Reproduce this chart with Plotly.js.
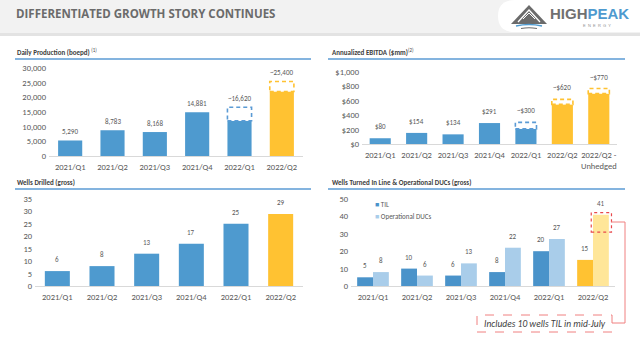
<!DOCTYPE html>
<html><head><meta charset="utf-8">
<script src="https://cdn.plot.ly/plotly-3.0.1.min.js"></script>
<style>html,body{margin:0;padding:0;background:#fff}#chart{width:640px;height:337px}</style>
</head><body><div id="chart"></div>
<script>
// ---------- DATA ----------
const prodCats = ['2021/Q1','2021/Q2','2021/Q3','2021/Q4','2022/Q1','2022/Q2'];
const prodActual = [5290, 8783, 8168, 14881, 12000, 22000];
const prodEstimate = [null, null, null, null, 16620, 25400];
const prodLabels = ['5,290','8,783','8,168','14,881','~16,620','~25,400'];

const ebitdaCats = ['2021/Q1','2021/Q2','2021/Q3','2021/Q4','2022/Q1','2022/Q2','2022/Q2 -<br>Unhedged'];
const ebitdaActual = [80, 154, 134, 291, 210, 550, 700];
const ebitdaEstimate = [null, null, null, null, 300, 620, 770];
const ebitdaLabels = ['$80','$154','$134','$291','~$300','~$620','~$770'];

const wellsCats = ['2021/Q1','2021/Q2','2021/Q3','2021/Q4','2022/Q1','2022/Q2'];
const wellsDrilled = [6, 8, 13, 17, 25, 29];

const tilCats = ['2021/Q1','2021/Q2','2021/Q3','2021/Q4','2022/Q1','2022/Q2'];
const tilWells = [5, 10, 6, 8, 20, 15];
const ducWells = [8, 6, 13, 22, 27, 41];
const legendNames = ['TIL', 'Operational DUCs'];
const midJulyTil = 10;

// ---------- STYLE ----------
const W = 640, H = 337;
const px = x => x / W, py = y => 1 - y / H;
const BLUE = '#4E9ACF', YEL = '#FFC232', LBLUE = '#A9CDEA', LYEL = '#FFE699', TIL_BLUE = '#4A93CA';
const TXT = '#595959';
const F = "Carlito, 'Liberation Sans Narrow', 'Open Sans', sans-serif";
const tickFont = {family: F, size: 8.5, color: TXT};
const lblFont = {family: F, size: 7, color: TXT};

const colorsFor = (n, nYellow, c1, c2) => Array.from({length: n}, (_, i) => i >= n - nYellow ? c2 : c1);

const traces = [
  {type: 'bar', x: prodCats, y: prodActual, xaxis: 'x', yaxis: 'y', width: 0.57,
   marker: {color: colorsFor(prodCats.length, 1, BLUE, YEL)}, showlegend: false, hoverinfo: 'skip'},
  {type: 'bar', x: ebitdaCats, y: ebitdaActual, xaxis: 'x2', yaxis: 'y2', width: 0.58,
   marker: {color: colorsFor(ebitdaCats.length, 2, BLUE, YEL)}, showlegend: false, hoverinfo: 'skip'},
  {type: 'bar', x: wellsCats, y: wellsDrilled, xaxis: 'x3', yaxis: 'y3', width: 0.56,
   marker: {color: colorsFor(wellsCats.length, 1, BLUE, YEL)}, showlegend: false, hoverinfo: 'skip'},
  {type: 'bar', name: legendNames[0], x: tilCats, y: tilWells, xaxis: 'x4', yaxis: 'y4', width: 0.36, offset: -0.36,
   marker: {color: colorsFor(tilCats.length, 1, TIL_BLUE, YEL)}, showlegend: false, hoverinfo: 'skip'},
  {type: 'bar', name: legendNames[1], x: tilCats, y: ducWells, xaxis: 'x4', yaxis: 'y4', width: 0.36, offset: 0,
   marker: {color: colorsFor(tilCats.length, 1, LBLUE, LYEL)}, showlegend: false, hoverinfo: 'skip'}
];

const shapes = [
  // header band
  {type: 'rect', xref: 'paper', yref: 'paper', x0: 0, x1: 1, y0: py(33), y1: 1, fillcolor: '#F2F2F2', line: {width: 0}, layer: 'below'},
  {type: 'rect', xref: 'paper', yref: 'paper', x0: 0, x1: 1, y0: py(36), y1: py(33), fillcolor: '#E3E3E3', line: {width: 0}, layer: 'below'},
  // logo pill
  {type: 'path', xref: 'paper', yref: 'paper', layer: 'below',
   path: `M${px(515)},${py(0)} L${px(640)},${py(0)} L${px(640)},${py(32)} L${px(515)},${py(32)} Q${px(498)},${py(32)} ${px(498)},${py(16)} Q${px(498)},${py(0)} ${px(515)},${py(0)} Z`,
   fillcolor: '#FFFFFF', line: {width: 0}},
  // mountain icon
  {type: 'path', xref: 'paper', yref: 'paper',
   path: `M${px(511)},${py(24)} L${px(529)},${py(5)} L${px(547)},${py(24)} Z`, fillcolor: '#6B6B6B', line: {width: 0}},
  {type: 'path', xref: 'paper', yref: 'paper',
   path: `M${px(518)},${py(22)} L${px(529)},${py(10)} L${px(540)},${py(22)}`, line: {color: '#FFFFFF', width: 1.3}},
  {type: 'path', xref: 'paper', yref: 'paper',
   path: `M${px(523)},${py(19)} L${px(529)},${py(13)} L${px(535)},${py(19)}`, line: {color: '#FFFFFF', width: 1}},
  {type: 'path', xref: 'paper', yref: 'paper',
   path: `M${px(516)},${py(26)} Q${px(529)},${py(23)} ${px(542)},${py(26)}`, line: {color: '#4E9ACF', width: 1.6}},
  {type: 'path', xref: 'paper', yref: 'paper',
   path: `M${px(521)},${py(28.5)} Q${px(529)},${py(27)} ${px(537)},${py(28.5)}`, line: {color: '#6B6B6B', width: 1.2}},
  // panel title rules
  {type: 'line', xref: 'paper', yref: 'paper', x0: px(15), x1: px(311), y0: py(59), y1: py(59), line: {color: '#5B9BD5', width: 1.5}},
  {type: 'line', xref: 'paper', yref: 'paper', x0: px(328), x1: px(625), y0: py(59), y1: py(59), line: {color: '#5B9BD5', width: 1.5}},
  {type: 'line', xref: 'paper', yref: 'paper', x0: px(15), x1: px(311), y0: py(189), y1: py(189), line: {color: '#5B9BD5', width: 1.5}},
  {type: 'line', xref: 'paper', yref: 'paper', x0: px(328), x1: px(625), y0: py(189), y1: py(189), line: {color: '#5B9BD5', width: 1.5}}
];

// dashed estimate boxes (white interior, dashed outline)
function dashBoxes(actual, est, colors, w, xr, yr) {
  est.forEach((e, i) => {
    if (e == null) return;
    shapes.push({type: 'rect', xref: xr, yref: yr, x0: i - w / 2, x1: i + w / 2, y0: actual[i], y1: e,
      line: {color: colors[i], width: 1.6, dash: '4px,3px'}, fillcolor: '#FFFFFF', layer: 'above'});
  });
}
dashBoxes(prodActual, prodEstimate, colorsFor(prodCats.length, 1, '#5B9BD5', YEL), 0.57, 'x', 'y');
dashBoxes(ebitdaActual, ebitdaEstimate, colorsFor(ebitdaCats.length, 2, '#5B9BD5', YEL), 0.58, 'x2', 'y2');

// red dotted box + connector for mid-July TIL
const lastIdx = tilCats.length - 1;
shapes.push({type: 'rect', xref: 'x4', yref: 'y4', x0: lastIdx - 0.04, x1: lastIdx + 0.42,
  y0: ducWells[lastIdx] - midJulyTil, y1: ducWells[lastIdx] + 1.2, line: {color: '#E8484B', width: 1.2, dash: 'dot'}});
shapes.push({type: 'path', xref: 'paper', yref: 'paper',
  path: `M${px(611)},${py(222)} L${px(625)},${py(222)} L${px(625)},${py(323)} L${px(612)},${py(323)}`,
  line: {color: '#F08080', width: 1}});
shapes.push({type: 'rect', xref: 'paper', yref: 'paper', x0: px(477), x1: px(612), y0: py(332), y1: py(315),
  line: {color: '#F08080', width: 1, dash: 'dash'}, fillcolor: '#FFFFFF'});

const annotations = [
  {xref: 'paper', yref: 'paper', x: px(14), y: py(13), xanchor: 'left', yanchor: 'middle', showarrow: false,
   text: '<b>DIFFERENTIATED GROWTH STORY CONTINUES</b>', font: {family: "'Open Sans', sans-serif", size: 11.5, color: '#6B6B6B'}},
  {xref: 'paper', yref: 'paper', x: px(548), y: py(13.5), xanchor: 'left', yanchor: 'middle', showarrow: false,
   text: "<b><span style='color:#707070'>HIGH</span><span style='color:#4E9ACF'>PEAK</span></b>",
   font: {family: "'Liberation Sans', Arial, sans-serif", size: 15}},
  {xref: 'paper', yref: 'paper', x: px(597), y: py(25), xanchor: 'center', yanchor: 'middle', showarrow: false,
   text: 'E  N  E  R  G  Y', font: {family: "'Liberation Sans', sans-serif", size: 4, color: '#909090'}},
  {xref: 'paper', yref: 'paper', x: px(15), y: py(52), xanchor: 'left', yanchor: 'middle', showarrow: false,
   text: '<b>Daily Production (boepd)</b> <sup>(1)</sup>', font: {family: F, size: 7, color: '#404040'}},
  {xref: 'paper', yref: 'paper', x: px(330), y: py(52), xanchor: 'left', yanchor: 'middle', showarrow: false,
   text: '<b>Annualized EBITDA ($mm)</b><sup>(2)</sup>', font: {family: F, size: 7, color: '#404040'}},
  {xref: 'paper', yref: 'paper', x: px(15), y: py(182), xanchor: 'left', yanchor: 'middle', showarrow: false,
   text: '<b>Wells Drilled (gross)</b>', font: {family: F, size: 7, color: '#404040'}},
  {xref: 'paper', yref: 'paper', x: px(330), y: py(182), xanchor: 'left', yanchor: 'middle', showarrow: false,
   text: '<b>Wells Turned In Line & Operational DUCs (gross)</b>', font: {family: F, size: 7, color: '#404040'}},
  {xref: 'paper', yref: 'paper', x: px(544.5), y: py(323.5), xanchor: 'center', yanchor: 'middle', showarrow: false,
   text: '<i>Includes 10 wells TIL in mid-July</i>', font: {family: F, size: 9.5, color: '#404040'}},
  // legend (panel 4)
  {xref: 'paper', yref: 'paper', x: px(373), y: py(204), xanchor: 'left', yanchor: 'middle', showarrow: false,
   text: `<span style='color:${TIL_BLUE}'>■</span> ${legendNames[0]}`, font: {family: F, size: 7, color: TXT}},
  {xref: 'paper', yref: 'paper', x: px(373), y: py(216.5), xanchor: 'left', yanchor: 'middle', showarrow: false,
   text: `<span style='color:${LBLUE}'>■</span> ${legendNames[1]}`, font: {family: F, size: 7, color: TXT}}
];

function labels(cats, vals, txt, xr, yr, shift, xshift) {
  cats.forEach((c, i) => annotations.push({xref: xr, yref: yr, x: i, y: vals[i], text: txt[i],
    xanchor: 'center', yanchor: 'bottom', yshift: shift, xshift: xshift || 0, showarrow: false, font: lblFont}));
}
labels(prodCats, prodCats.map((_, i) => prodEstimate[i] ?? prodActual[i]), prodLabels, 'x', 'y', 2);
labels(ebitdaCats, ebitdaCats.map((_, i) => ebitdaEstimate[i] ?? ebitdaActual[i]), ebitdaLabels, 'x2', 'y2', 5);
labels(wellsCats, wellsDrilled, wellsDrilled.map(String), 'x3', 'y3', 5);
labels(tilCats, tilWells, tilWells.map(String), 'x4', 'y4', 5, -8);
labels(tilCats, ducWells, ducWells.map(String), 'x4', 'y4', 5, 8);

const xBase = {type: 'category', showgrid: false, zeroline: false, showline: true, linecolor: '#D9D9D9', linewidth: 1,
  ticks: '', tickfont: tickFont, fixedrange: true, ticklabelstandoff: 3};
const yBase = {showgrid: false, zeroline: false, showline: false, ticks: '', tickfont: tickFont, fixedrange: true, ticklabelstandoff: 2};

const layout = {
  width: W, height: H, margin: {l: 0, r: 0, t: 0, b: 0}, paper_bgcolor: '#FFFFFF', plot_bgcolor: 'rgba(0,0,0,0)',
  barmode: 'overlay', showlegend: false,
  xaxis: Object.assign({}, xBase, {domain: [px(49), px(303)], anchor: 'y', range: [-0.5, 5.5]}),
  yaxis: Object.assign({}, yBase, {domain: [py(156), py(68)], anchor: 'x', range: [0, 30000], dtick: 5000, tickformat: ','}),
  xaxis2: Object.assign({}, xBase, {domain: [px(362), px(617)], anchor: 'y2', range: [-0.5, 6.5]}),
  yaxis2: Object.assign({}, yBase, {domain: [py(144), py(72)], anchor: 'x2', range: [0, 1000], dtick: 200, tickformat: ',', tickprefix: '$'}),
  xaxis3: Object.assign({}, xBase, {domain: [px(35), px(303)], anchor: 'y3', range: [-0.5, 5.5]}),
  yaxis3: Object.assign({}, yBase, {domain: [py(286), py(199)], anchor: 'x3', range: [0, 35], dtick: 5}),
  xaxis4: Object.assign({}, xBase, {domain: [px(351), px(615)], anchor: 'y4', range: [-0.5, 5.5]}),
  yaxis4: Object.assign({}, yBase, {domain: [py(286), py(199)], anchor: 'x4', range: [0, 50], dtick: 10}),
  shapes: shapes, annotations: annotations
};

Plotly.newPlot('chart', traces, layout, {staticPlot: true, displayModeBar: false});
</script></body></html>
